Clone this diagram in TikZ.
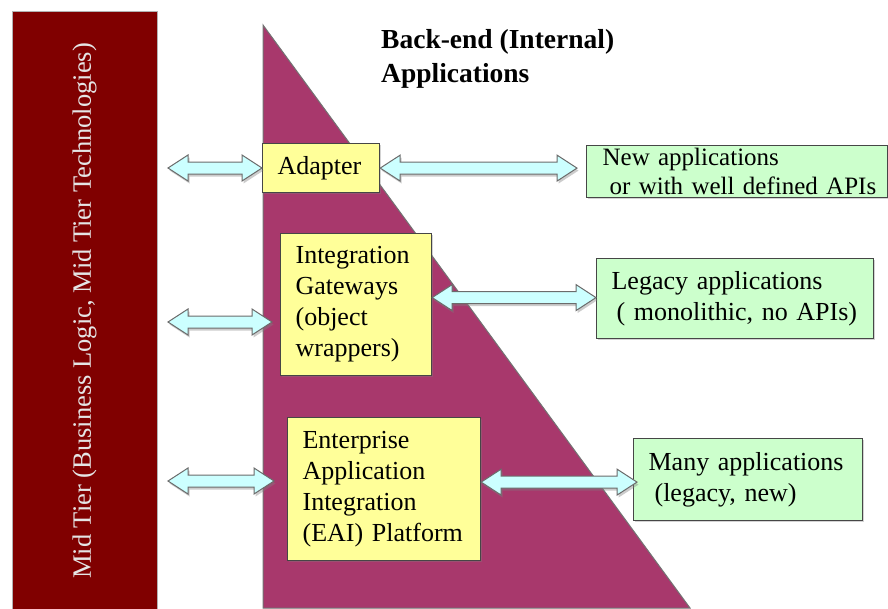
\documentclass[tikz,border=0pt]{standalone}
\usepackage{fontspec}
\setmainfont{Liberation Serif}
\usetikzlibrary{calc,shadows}

\definecolor{midred}{RGB}{128,0,0}
\definecolor{backendpink}{RGB}{168,56,108}
\definecolor{boxyellow}{RGB}{255,255,153}
\definecolor{boxgreen}{RGB}{204,255,204}
\definecolor{arrowcyan}{RGB}{204,255,255}
\definecolor{edgegray}{RGB}{70,70,70}

\tikzset{
  appbox/.style={draw=edgegray, line width=1.2pt, fill=#1, anchor=north west,
    align=left, inner xsep=15pt, inner ysep=0pt,
    drop shadow={opacity=0.35, shadow xshift=1.5pt, shadow yshift=-1.5pt},
    font=\fontsize{26}{31}\selectfont},
  linkarrow/.style={draw=edgegray!80, line width=1pt, fill=arrowcyan,
    drop shadow={opacity=0.4, shadow xshift=1.5pt, shadow yshift=-2.5pt}}
}

% double block arrow, level with its first end
\newcommand\linkarrow[2]{%
  \filldraw[linkarrow] let \p1=(#1), \p2=(#2) in
    (\x1,\y1) -- ++(20pt,13pt) -- ++(0,-7pt) -- (\x2-20pt,\y1+6pt) -- ++(0,7pt)
    -- (\x2,\y1) -- ++(-20pt,-13pt) -- ++(0,7pt) -- (\x1+20pt,\y1-6pt)
    -- ++(0,-7pt) -- cycle;}

\begin{document}
\begin{tikzpicture}[x=1pt,y=-1pt]
  \useasboundingbox (0,0) rectangle (888,608);

  % mid tier column
  \node[draw=gray!60, fill=midred, rotate=90, minimum width=600pt, minimum height=145pt,
        text=gray!20, font=\fontsize{26.5}{30}\selectfont] (midtier) at (84.5,311)
        {Mid Tier (Business Logic, Mid Tier Technologies)};

  % back-end wedge
  \filldraw[fill=backendpink, draw=black!55, line width=1pt]
    (263,25) -- (263,608) -- (690,608) -- cycle;
  \node[anchor=north west, inner sep=0pt, align=left,
        font=\fontsize{27.5}{34}\selectfont\bfseries]
    (title) at (381,29) {Back-end (Internal)\\Applications};

  % integration layers
  \node[appbox=boxyellow, text width=87pt, minimum height=49pt] (adapter) at (262,143)
    {Adapter};
  \node[appbox=boxyellow, text width=121pt, minimum height=142pt] (gateway) at (280,233)
    {Integration\\Gateways\\(object\\wrappers)};
  \node[appbox=boxyellow, text width=163pt, minimum height=143pt] (eai) at (287,417)
    {Enterprise\\Application\\Integration\\(EAI) Platform};

  % applications
  \node[appbox=boxgreen, inner xsep=8pt, text width=285pt, minimum height=52pt,
        font=\fontsize{25}{29}\selectfont] (newapps) at (586,145)
    {\hspace*{8pt}New applications\\\hspace*{15pt}or with well defined APIs};
  \node[appbox=boxgreen, text width=247pt, minimum height=80pt] (legacy) at (596,258)
    {Legacy applications\\\hspace*{5pt}( monolithic, no APIs)};
  \node[appbox=boxgreen, text width=199pt, minimum height=82pt] (many) at (633,438)
    {Many applications\\\hspace*{6pt}(legacy, new)};

  % links
  \coordinate (m1) at (168,168);
  \coordinate (m2) at (168,322);
  \coordinate (m3) at (168,481);
  \linkarrow{m1}{adapter.west}
  \linkarrow{m2}{[xshift=-8pt]gateway.west}
  \linkarrow{m3}{[xshift=-13pt]eai.west}
  \linkarrow{adapter.east}{[xshift=-9pt]newapps.west}
  \linkarrow{[yshift=7pt]gateway.east}{legacy.west}
  \linkarrow{[yshift=7pt]eai.east}{[xshift=4pt]many.west}
\end{tikzpicture}
\end{document}
